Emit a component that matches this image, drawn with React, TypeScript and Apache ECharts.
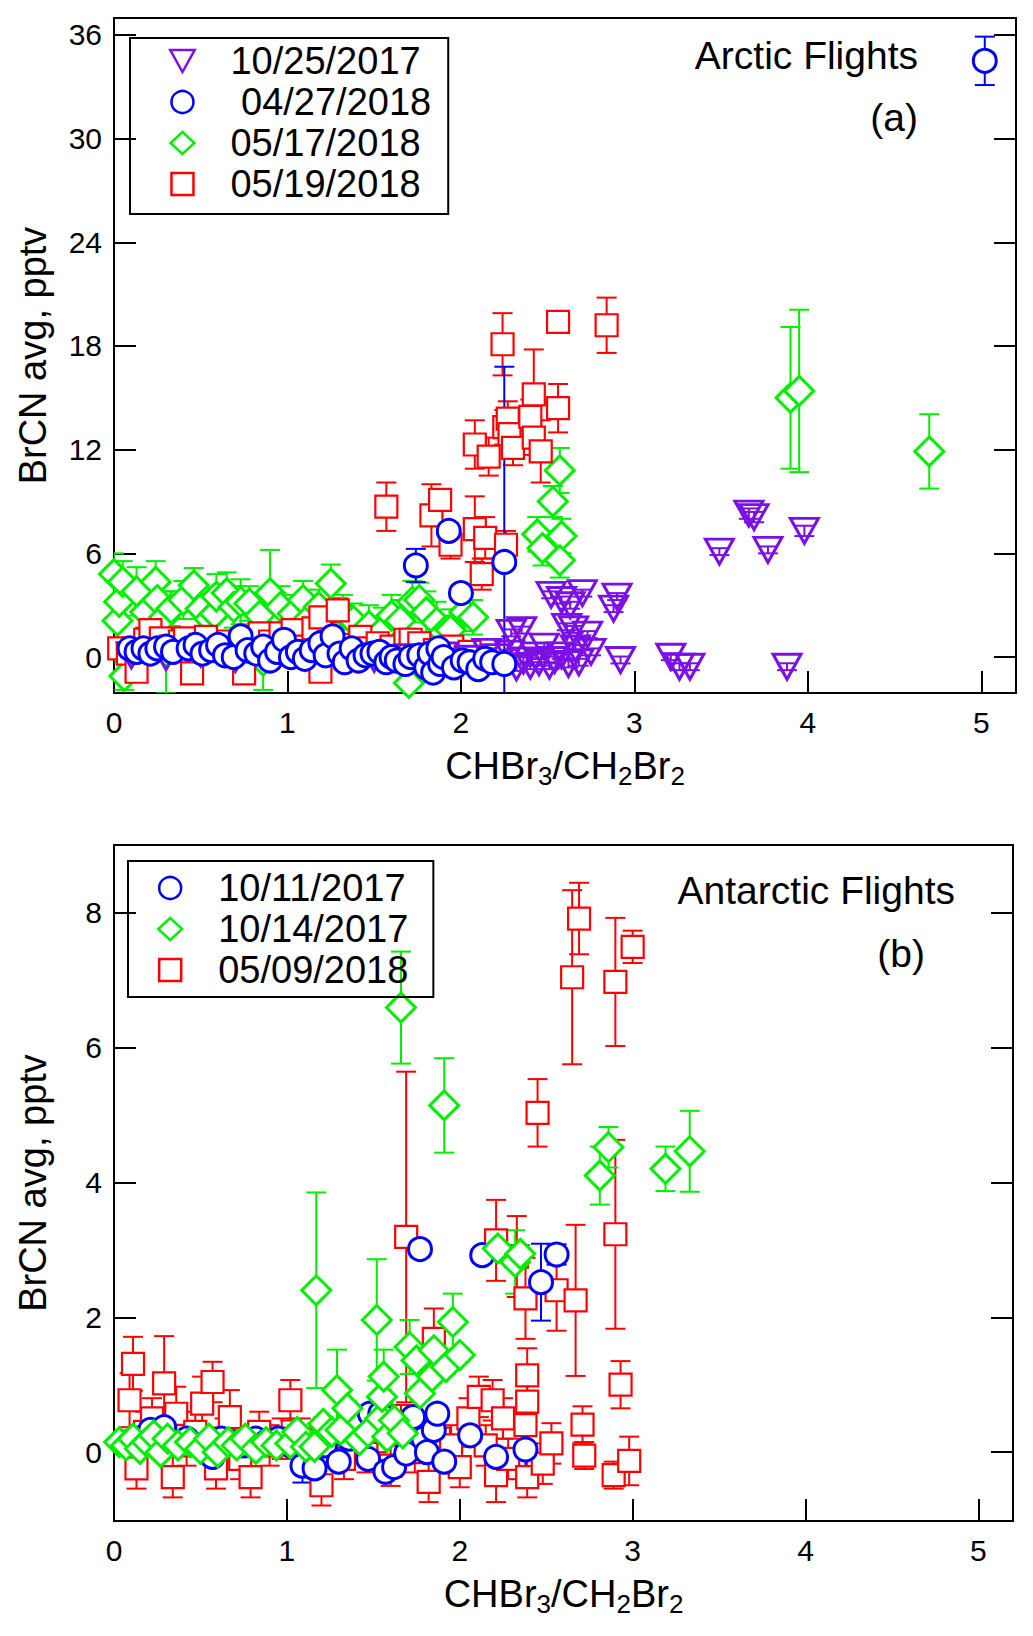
import React, { useEffect, useRef } from 'react';
import * as echarts from 'echarts';

// each point: [CHBr3/CH2Br2, BrCN avg (pptv), error]
const arcticOct25 = [
  [0.10, 0.1, 0.2], [0.30, 0.0, 0.2], [0.50, 0.2, 0.2], [0.70, -0.1, 0.2], [0.90, 0.1, 0.2],
  [1.10, 0.0, 0.2], [1.30, 0.2, 0.2], [1.50, -0.1, 0.2], [1.70, 0.0, 0.2], [1.90, 0.1, 0.2],
  [2.05, -0.1, 0.2], [2.15, 0.3, 0.2], [2.20, 0.0, 0.2], [2.28, 0.2, 0.2], [2.29, 1.4, 0.2],
  [2.32, -0.6, 0.2], [2.35, 1.56, 0.2], [2.36, -0.2, 0.2], [2.40, -0.5, 0.2], [2.43, 0.1, 0.2],
  [2.45, -0.3, 0.2], [2.48, 0.6, 0.2], [2.51, -0.5, 0.2], [2.52, 3.6, 0.2], [2.54, -0.17, 0.2],
  [2.58, 0.1, 0.2], [2.58, 3.3, 0.2], [2.61, 1.75, 0.2], [2.62, -0.4, 0.2], [2.63, 3.0, 0.2],
  [2.65, 1.6, 0.2], [2.66, 0.5, 0.2], [2.68, -0.3, 0.2], [2.70, 3.7, 0.2], [2.73, 1.3, 0.2],
  [2.75, 0.3, 0.2], [2.88, 2.8, 0.2], [2.90, 3.5, 0.2], [2.92, -0.17, 0.2], [3.21, 0.02, 0.2],
  [3.26, -0.56, 0.2], [3.32, -0.56, 0.2], [3.49, 6.1, 0.2], [3.66, 8.3, 0.3], [3.69, 8.1, 0.3],
  [3.77, 6.2, 0.2], [3.88, -0.56, 0.2], [3.98, 7.3, 0.3],
];

const arcticApr27 = [
  [0.09, 0.5, 0.2], [0.13, 0.3, 0.2], [0.17, 0.5, 0.2], [0.21, 0.2, 0.2], [0.25, 0.5, 0.2],
  [0.30, 0.6, 0.2], [0.34, 0.3, 0.2], [0.43, 0.5, 0.2], [0.47, 0.7, 0.2], [0.51, 0.2, 0.2],
  [0.56, 0.4, 0.2], [0.60, 0.7, 0.2], [0.64, 0.1, 0.2], [0.69, 0.0, 0.2], [0.73, 1.2, 0.2],
  [0.77, 0.4, 0.2], [0.82, 0.2, 0.2], [0.86, 0.6, 0.2], [0.90, -0.2, 0.2], [0.94, 0.3, 0.2],
  [0.98, 1.0, 0.2], [1.02, 0.0, 0.2], [1.06, 0.3, 0.2], [1.10, -0.1, 0.2], [1.14, 0.4, 0.2],
  [1.19, 0.8, 0.2], [1.22, 0.1, 0.2], [1.26, 1.2, 0.3], [1.30, 0.2, 0.2], [1.33, -0.3, 0.2],
  [1.37, 0.5, 0.2], [1.41, -0.2, 0.2], [1.45, 0.1, 0.2], [1.49, 0.2, 0.2], [1.53, 0.3, 0.2],
  [1.57, -0.3, 0.2], [1.60, 0.0, 0.2], [1.63, -0.2, 0.2], [1.68, -0.4, 0.2], [1.71, 0.0, 0.2],
  [1.74, 5.3, 0.96], [1.76, 0.1, 0.2], [1.80, -0.6, 0.2], [1.82, 0.2, 0.2], [1.84, -0.9, 0.2],
  [1.87, 0.5, 0.2], [1.88, -0.4, 0.2], [1.90, 0.0, 0.2], [1.93, 7.3, 0.2], [1.96, -0.6, 0.2],
  [2.00, 3.7, 0.2], [2.01, -0.2, 0.2], [2.05, -0.3, 0.2], [2.10, -0.7, 0.2], [2.14, -0.1, 0.2],
  [2.18, -0.3, 0.2], [2.25, -0.4, 0.2], [2.25, 5.5, 11.3], [5.02, 34.5, 1.4],
];

const arcticMay17 = [
  [0.00, 4.8, 1.2], [0.02, 2.1, 1.2], [0.03, 3.2, 1.0], [0.05, 4.35, 1.2], [0.06, -1.1, 0.8],
  [0.13, 3.8, 1.4], [0.18, 2.6, 1.2], [0.24, 4.35, 1.2], [0.25, 3.3, 1.3], [0.29, 2.3, 1.5],
  [0.30, 0.3, 2.4], [0.33, 2.8, 1.0], [0.40, 3.3, 1.1], [0.46, 4.15, 1.0], [0.50, 2.8, 1.2],
  [0.55, 2.2, 1.0], [0.58, 2.5, 1.0], [0.59, 3.5, 1.3], [0.65, 3.7, 1.2], [0.69, 2.9, 1.2],
  [0.73, 3.2, 1.3], [0.78, 3.1, 1.0], [0.84, 2.4, 1.1], [0.86, -0.2, 1.7], [0.90, 3.7, 2.5],
  [0.96, 2.9, 1.2], [1.03, 2.5, 1.1], [1.09, 3.3, 1.1], [1.11, 2.1, 1.2], [1.18, 2.9, 1.0],
  [1.25, 4.25, 1.1], [1.32, 2.6, 1.0], [1.38, 2.1, 1.0], [1.47, 1.8, 1.2], [1.55, 1.56, 1.3],
  [1.60, 2.4, 1.2], [1.65, 2.1, 1.2], [1.70, -1.5, 1.0], [1.72, 3.2, 1.2], [1.76, 3.3, 1.0],
  [1.80, 2.6, 1.2], [1.86, 2.0, 1.2], [1.90, 1.4, 1.0], [1.94, 1.56, 1.2], [2.02, 2.6, 1.1],
  [2.07, 2.3, 1.0], [2.44, 7.1, 1.0], [2.47, 6.3, 1.0], [2.53, 9.0, 0.9], [2.57, 10.8, 1.3],
  [2.58, 7.0, 1.0], [2.57, 5.6, 1.0], [3.90, 15.0, 4.1], [3.95, 15.4, 4.7], [4.70, 11.9, 2.15],
];

const arcticMay19 = [
  [0.03, 0.5, 0.6], [0.08, 0.2, 0.5], [0.13, -0.85, 0.4], [0.18, 1.0, 0.7], [0.21, 1.56, 0.6],
  [0.27, 1.08, 0.6], [0.33, 0.6, 0.5], [0.38, 0.9, 0.6], [0.41, 1.08, 0.5], [0.45, -0.94, 0.4],
  [0.50, 0.7, 0.5], [0.53, 1.17, 0.6], [0.60, 0.4, 0.5], [0.66, 0.9, 0.5], [0.71, 0.5, 0.6],
  [0.75, -0.94, 0.5], [0.80, 0.7, 0.6], [0.84, 1.37, 0.5], [0.90, 0.9, 0.6], [0.96, 1.37, 0.6],
  [1.03, 1.56, 0.6], [1.08, 0.6, 0.5], [1.15, 1.66, 0.5], [1.19, -0.85, 0.5], [1.19, 2.3, 0.8],
  [1.24, 0.9, 0.6], [1.29, 2.7, 0.7], [1.35, 0.7, 0.5], [1.42, 1.17, 0.5], [1.47, 0.5, 0.6],
  [1.52, 0.8, 0.6], [1.60, 0.6, 0.5], [1.68, 1.0, 0.6], [1.71, 1.0, 0.6], [1.76, 0.8, 0.5],
  [1.85, 0.4, 0.5], [1.95, 0.6, 0.5], [2.05, 0.3, 0.6],
  [1.57, 8.7, 1.4], [1.83, 8.2, 1.8], [1.88, 9.1, 0.6], [1.94, 6.5, 0.8], [2.08, 12.3, 1.4],
  [2.08, 7.4, 1.9], [2.12, 4.8, 0.9], [2.14, 6.9, 1.2], [2.16, 11.6, 1.1], [2.24, 18.1, 1.8],
  [2.25, 13.3, 1.0], [2.26, 6.5, 0.8], [2.27, 13.8, 1.0], [2.28, 12.9, 1.1], [2.30, 12.1, 1.0],
  [2.40, 13.9, 1.0], [2.42, 15.2, 2.6], [2.42, 12.7, 1.0], [2.46, 11.9, 1.8], [2.56, 14.4, 1.4],
  [2.56, 19.4, 0], [2.84, 19.2, 1.6],
];

const antarcticMay09 = [
  [0.09, 0.77, 0.4], [0.11, 1.31, 0.4], [0.13, -0.24, 0.3], [0.18, 0.3, 0.3], [0.22, 0.5, 0.3],
  [0.29, 1.02, 0.7], [0.34, -0.37, 0.3], [0.36, 0.57, 0.4], [0.42, 0.1, 0.3], [0.47, 0.3, 0.3],
  [0.51, 0.72, 0.4], [0.57, 1.04, 0.3], [0.59, -0.24, 0.3], [0.64, 0.2, 0.3], [0.67, 0.52, 0.4],
  [0.73, -0.1, 0.3], [0.79, -0.37, 0.3], [0.84, 0.3, 0.3], [0.90, 0.1, 0.3], [0.97, 0.2, 0.3],
  [1.02, 0.77, 0.3], [1.08, 0.2, 0.3], [1.14, 0.0, 0.3], [1.20, -0.49, 0.3], [1.26, 0.1, 0.3],
  [1.33, -0.1, 0.3], [1.40, 0.2, 0.3], [1.46, 0.0, 0.3], [1.52, 0.3, 0.3], [1.60, -0.2, 0.3],
  [1.66, 0.4, 0.3], [1.69, 3.19, 2.45], [1.74, 0.0, 0.3], [1.82, -0.44, 0.3], [1.85, 1.68, 0.45],
  [1.88, 0.2, 0.3], [1.95, 0.1, 0.3], [2.00, -0.22, 0.3], [2.05, 0.5, 0.3], [2.11, 0.82, 0.3],
  [2.15, 0.1, 0.3], [2.19, 0.77, 0.3], [2.21, 3.14, 0.6], [2.21, -0.34, 0.4], [2.25, 0.5, 0.3],
  [2.28, -0.1, 0.3], [2.33, 2.9, 0.6], [2.38, 2.28, 0.6], [2.38, 0.4, 0.3], [2.39, 1.14, 0.4],
  [2.39, 0.75, 0.3], [2.39, -0.37, 0.3], [2.45, 5.03, 0.5], [2.48, -0.17, 0.3], [2.53, 0.13, 0.3],
  [2.56, 2.4, 0.6], [2.65, 7.04, 1.29], [2.67, 2.25, 1.12], [2.69, 7.91, 0.53], [2.71, 0.41, 0.27],
  [2.72, -0.05, 0.2], [2.89, -0.34, 0.2], [2.90, 6.97, 0.95], [2.90, 3.23, 1.4], [2.93, 1.0, 0.35],
  [2.98, -0.13, 0.36], [3.00, 7.49, 0.24],
];

const antarcticOct11 = [
  [0.08, 0.15, 0.1], [0.13, 0.2, 0.1], [0.21, 0.33, 0.1], [0.26, 0.2, 0.1], [0.29, 0.37, 0.1],
  [0.35, 0.15, 0.1], [0.42, 0.2, 0.1], [0.50, 0.1, 0.1], [0.57, -0.07, 0.1], [0.62, 0.2, 0.1],
  [0.68, 0.15, 0.1], [0.75, 0.1, 0.1], [0.82, 0.2, 0.1], [0.88, 0.15, 0.1], [0.95, 0.2, 0.1],
  [1.02, 0.1, 0.1], [1.09, -0.2, 0.25], [1.16, -0.24, 0.1], [1.22, 0.1, 0.1], [1.30, -0.14, 0.1],
  [1.36, 0.2, 0.1], [1.40, 0.42, 0.1], [1.47, -0.1, 0.1], [1.48, 0.57, 0.1], [1.54, 0.57, 0.1],
  [1.57, -0.29, 0.1], [1.62, -0.22, 0.1], [1.66, 0.3, 0.1], [1.69, -0.02, 0.1], [1.73, 0.52, 0.1],
  [1.77, 3.01, 0.12], [1.79, 0.2, 0.1], [1.81, 0.0, 0.1], [1.85, 0.33, 0.1], [1.87, 0.57, 0.1],
  [1.91, -0.14, 0.1], [2.06, 0.25, 0.1], [2.13, 2.92, 0.1], [2.21, -0.07, 0.1], [2.38, 0.04, 0.3],
  [2.47, 2.52, 0.57], [2.56, 2.93, 0.15],
];

const antarcticOct14 = [
  [0.03, 0.15, 0.1], [0.07, 0.1, 0.1], [0.11, 0.2, 0.1], [0.15, 0.05, 0.1], [0.19, 0.15, 0.1],
  [0.23, 0.25, 0.1], [0.27, 0.0, 0.1], [0.31, 0.2, 0.1], [0.37, 0.1, 0.1], [0.44, 0.15, 0.1],
  [0.50, 0.05, 0.1], [0.55, 0.2, 0.1], [0.60, 0.0, 0.1], [0.66, 0.15, 0.1], [0.71, 0.1, 0.1],
  [0.76, 0.2, 0.1], [0.82, 0.05, 0.1], [0.88, 0.15, 0.1], [0.94, 0.1, 0.1], [1.02, 0.13, 0.1],
  [1.06, 0.3, 0.1], [1.11, 0.08, 0.1], [1.16, 0.08, 0.1], [1.17, 2.4, 1.45], [1.21, 0.42, 0.1],
  [1.26, 0.3, 0.1], [1.29, 0.92, 0.6], [1.31, 0.33, 0.1], [1.35, 0.65, 0.1], [1.42, 0.18, 0.1],
  [1.47, 0.3, 0.1], [1.52, 1.96, 0.9], [1.54, 0.5, 0.1], [1.55, 0.82, 0.1], [1.56, 1.12, 0.4],
  [1.58, 0.23, 0.1], [1.62, 0.47, 0.1], [1.66, 6.59, 0.83], [1.67, 0.28, 0.1], [1.71, 1.56, 0.4],
  [1.75, 1.36, 0.1], [1.77, 0.87, 0.1], [1.84, 1.12, 0.1], [1.85, 1.51, 0.3], [1.91, 5.14, 0.7],
  [1.92, 1.26, 0.1], [1.96, 1.93, 0.42], [2.00, 1.44, 0.1], [2.22, 3.02, 0.13], [2.32, 2.82, 0.47],
  [2.35, 2.94, 0.13], [2.81, 4.10, 0.43], [2.86, 4.52, 0.3], [3.19, 4.2, 0.33], [3.33, 4.46, 0.6],
];

const xTicks = [0, 1, 2, 3, 4, 5];
const yTicksArctic = [0, 6, 12, 18, 24, 30, 36];
const yTicksAntarctic = [0, 2, 4, 6, 8];

const FONT = 'Liberation Sans';
const PURPLE = '#7A10E6';
const BLUE = '#0000FF';
const GREEN = '#00EE00';
const RED = '#FF0000';
const TRI_DOWN = 'path://M0,0 L20,0 L10,18 Z';
const DIAMOND = 'path://M13,0 L26,12 L13,24 L0,12 Z';
const SQUARE = 'path://M0,0 L20,0 L20,20 L0,20 Z';

const errorBars = (name: string, data: number[][], axis: number, color: string) => ({
  type: 'custom',
  name: name + ' err',
  xAxisIndex: axis,
  yAxisIndex: axis * 2,
  clip: true,
  silent: true,
  data: data.filter(d => d[2] > 0),
  encode: { x: 0, y: 1 },
  renderItem: (params: any, api: any) => {
    const x = api.value(0);
    const y = api.value(1);
    const e = api.value(2);
    const top = api.coord([x, y + e]);
    const bot = api.coord([x, y - e]);
    const style = { stroke: color, lineWidth: 2 };
    return {
      type: 'group',
      children: [
        { type: 'line', shape: { x1: top[0], y1: top[1], x2: bot[0], y2: bot[1] }, style },
        { type: 'line', shape: { x1: top[0] - 10, y1: top[1], x2: top[0] + 10, y2: top[1] }, style },
        { type: 'line', shape: { x1: bot[0] - 10, y1: bot[1], x2: bot[0] + 10, y2: bot[1] }, style },
      ],
    };
  },
});

const markers = (name: string, data: number[][], axis: number, symbol: string,
  size: number | number[], color: string, fill: string, bw: number) => ({
  type: 'scatter',
  name,
  xAxisIndex: axis,
  yAxisIndex: axis * 2,
  symbol,
  symbolSize: size,
  data: data.map(d => [d[0], d[1]]),
  itemStyle: { color: fill, borderColor: color, borderWidth: bw, opacity: 1 },
  emphasis: { disabled: true },
});

const xAxisFor = (gridIndex: number) => ({
  type: 'value',
  gridIndex,
  min: 0,
  max: 5.2,
  axisLine: { show: true, onZero: false, lineStyle: { color: '#000', width: 2 } },
  axisTick: { show: true, inside: true, length: 22, customValues: xTicks, lineStyle: { color: '#000', width: 2 } },
  axisLabel: { customValues: xTicks, fontSize: 30, color: '#000', fontFamily: FONT, margin: 14 },
  splitLine: { show: false },
  name: '{n|CHBr}{s|3}{n|/CH}{s|2}{n|Br}{s|2}',
  nameLocation: 'middle',
  nameGap: 50,
  nameTextStyle: {
    color: '#000',
    fontFamily: FONT,
    fontSize: 38,
    rich: {
      n: { fontSize: 38, fontFamily: FONT, color: '#000' },
      s: { fontSize: 26, fontFamily: FONT, color: '#000', padding: [20, 0, 0, 0] },
    },
  },
});

const yAxesFor = (gridIndex: number, min: number, max: number, ticks: number[]) => [
  {
    type: 'value',
    gridIndex,
    position: 'left',
    min,
    max,
    axisLine: { show: true, onZero: false, lineStyle: { color: '#000', width: 2 } },
    axisTick: { show: true, inside: true, length: 22, customValues: ticks, lineStyle: { color: '#000', width: 2 } },
    axisLabel: { customValues: ticks, fontSize: 30, color: '#000', fontFamily: FONT, margin: 12 },
    splitLine: { show: false },
    name: 'BrCN avg, pptv',
    nameLocation: 'middle',
    nameGap: 62,
    nameTextStyle: { color: '#000', fontFamily: FONT, fontSize: 38 },
  },
  {
    type: 'value',
    gridIndex,
    position: 'right',
    min,
    max,
    axisLine: { show: false, onZero: false },
    axisTick: { show: true, inside: true, length: 22, customValues: ticks, lineStyle: { color: '#000', width: 2 } },
    axisLabel: { show: false },
    splitLine: { show: false },
  },
];

// icon box 26x22; text pushed right with padding so icon centre and text start match the figure
const legendFor = (left: number, top: number, padding: number[], items: any[]) => ({
  orient: 'vertical',
  left,
  top,
  padding,
  itemGap: 3,
  itemWidth: 26,
  itemHeight: 22,
  borderColor: '#000',
  borderWidth: 2,
  selectedMode: false,
  textStyle: { fontSize: 38, fontFamily: FONT, color: '#000', lineHeight: 37, padding: [0, 0, 0, 30] },
  data: items,
});

const App: React.FC = () => {
  const chartRef = useRef<HTMLDivElement>(null);

  useEffect(() => {
    const chart = echarts.init(chartRef.current, null, { renderer: 'svg' });

    const option = {
      animation: false,
      backgroundColor: '#fff',
      grid: [
        { left: 114, top: 18, width: 902, height: 675, show: true, borderColor: '#000', borderWidth: 2 },
        { left: 114, top: 845, width: 899, height: 676, show: true, borderColor: '#000', borderWidth: 2 },
      ],
      xAxis: [xAxisFor(0), xAxisFor(1)],
      yAxis: [
        ...yAxesFor(0, -2.08, 36.98, yTicksArctic),
        ...yAxesFor(1, -1.02, 9.0, yTicksAntarctic),
      ],
      legend: [
        legendFor(130, 38, [4, 17, 11, 39], [
          { name: '10/25/2017', icon: TRI_DOWN, itemStyle: { color: 'rgba(255,255,255,0)', borderColor: PURPLE, borderWidth: 2.5 } },
          { name: ' 04/27/2018', icon: 'circle', itemStyle: { color: '#fff', borderColor: BLUE, borderWidth: 2.5 } },
          { name: '05/17/2018', icon: DIAMOND, itemStyle: { color: '#fff', borderColor: GREEN, borderWidth: 2.5 } },
          { name: '05/19/2018', icon: SQUARE, itemStyle: { color: '#fff', borderColor: RED, borderWidth: 2.5 } },
        ]),
        legendFor(128, 861, [8, 25, 8, 29], [
          { name: '10/11/2017', icon: 'circle', itemStyle: { color: '#fff', borderColor: BLUE, borderWidth: 2.5 } },
          { name: '10/14/2017', icon: DIAMOND, itemStyle: { color: '#fff', borderColor: GREEN, borderWidth: 2.5 } },
          { name: '05/09/2018', icon: SQUARE, itemStyle: { color: '#fff', borderColor: RED, borderWidth: 2.5 } },
        ]),
      ],
      graphic: [
        { type: 'text', x: 918, y: 55, style: { text: 'Arctic Flights', fontSize: 39, fontFamily: FONT, fill: '#000', align: 'right', verticalAlign: 'middle' } },
        { type: 'text', x: 918, y: 117, style: { text: '(a)', fontSize: 39, fontFamily: FONT, fill: '#000', align: 'right', verticalAlign: 'middle' } },
        { type: 'text', x: 955, y: 890, style: { text: 'Antarctic Flights', fontSize: 39, fontFamily: FONT, fill: '#000', align: 'right', verticalAlign: 'middle' } },
        { type: 'text', x: 925, y: 953, style: { text: '(b)', fontSize: 39, fontFamily: FONT, fill: '#000', align: 'right', verticalAlign: 'middle' } },
      ],
      series: [
        errorBars('05/17/2018', arcticMay17, 0, GREEN),
        markers('05/17/2018', arcticMay17, 0, 'diamond', 29, GREEN, '#fff', 3),
        errorBars('05/19/2018', arcticMay19, 0, RED),
        markers('05/19/2018', arcticMay19, 0, 'rect', 22, RED, '#fff', 2.2),
        errorBars('10/25/2017', arcticOct25, 0, PURPLE),
        markers('10/25/2017', arcticOct25, 0, TRI_DOWN, [28, 25], PURPLE, 'rgba(255,255,255,0)', 3),
        errorBars(' 04/27/2018', arcticApr27, 0, BLUE),
        markers(' 04/27/2018', arcticApr27, 0, 'circle', 23, BLUE, '#fff', 3),

        errorBars('05/09/2018', antarcticMay09, 1, RED),
        markers('05/09/2018', antarcticMay09, 1, 'rect', 22, RED, '#fff', 2.2),
        errorBars('10/11/2017', antarcticOct11, 1, BLUE),
        markers('10/11/2017', antarcticOct11, 1, 'circle', 23, BLUE, '#fff', 3),
        errorBars('10/14/2017', antarcticOct14, 1, GREEN),
        markers('10/14/2017', antarcticOct14, 1, 'diamond', 29, GREEN, '#fff', 3),
      ],
    };

    chart.setOption(option as any);

    return () => {
      chart.dispose();
    };
  }, []);

  return (
    <div
      ref={chartRef}
      style={{ position: 'absolute', left: 0, top: 0, width: '1033px', height: '1636px' }}
    />
  );
};

export default App;
